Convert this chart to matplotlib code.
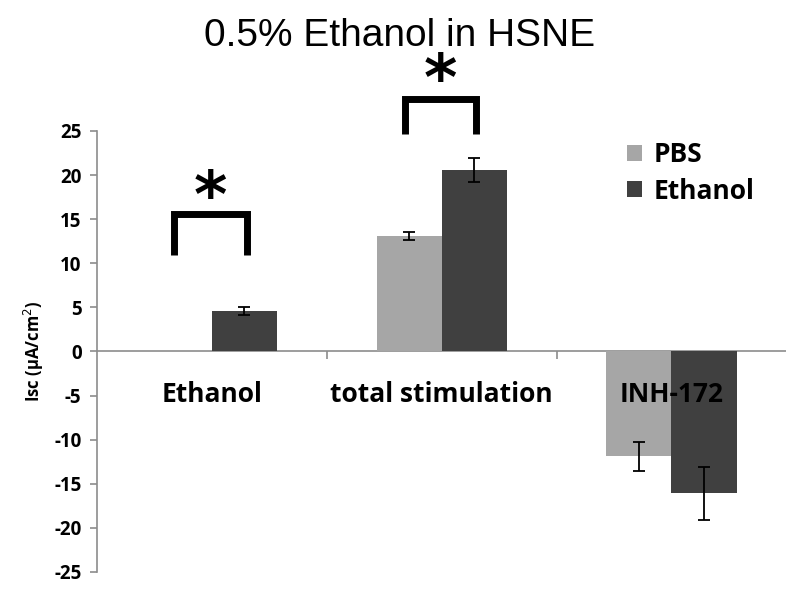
import matplotlib.pyplot as plt
import numpy as np

# data
categories = ['Ethanol', 'total stimulation', 'INH-172']
pbs = [0, 13.1, -11.9]
pbs_err = [0, 0.5, 1.65]
ethanol = [4.6, 20.6, -16.1]
ethanol_err = [0.45, 1.35, 3.0]
yticks = list(range(-25, 30, 5))

light = '#a6a6a6'
dark = '#404040'
axis_gray = '#8c8c8c'

fig = plt.figure(figsize=(8, 5.98), dpi=100)
ax = fig.add_axes([0.121, 0.0435, 0.862, 0.7375])

x = np.arange(len(categories))
w = 0.283
ax.bar(x - w/2, pbs, w, color=light, label='PBS', zorder=2)
ax.bar(x + w/2, ethanol, w, color=dark, label='Ethanol', zorder=2)
for i in range(len(x)):
    if pbs_err[i] > 0:
        ax.errorbar(x[i] - w/2, pbs[i], yerr=pbs_err[i], fmt='none', ecolor='black',
                    elinewidth=1.3, capsize=4, capthick=1.3, zorder=3)
    ax.errorbar(x[i] + w/2, ethanol[i], yerr=ethanol_err[i], fmt='none', ecolor='black',
                elinewidth=1.3, capsize=4, capthick=1.3, zorder=3)

ax.set_xlim(-0.5, 2.5)
ax.set_ylim(-25, 25)
ax.set_yticks(yticks)
ax.set_yticklabels([str(t) for t in yticks], fontsize=13.5, fontweight='bold', family='Open Sans')
ax.tick_params(axis='y', direction='out', length=5, color=axis_gray, width=1.2, pad=6)
ax.set_xticks([])
for s in ['top', 'right', 'bottom']:
    ax.spines[s].set_visible(False)
ax.spines['left'].set_color(axis_gray)
ax.spines['left'].set_linewidth(1.2)
ax.axhline(0, color=axis_gray, lw=1.2, zorder=1)
ax.vlines([0.5, 1.5], -0.9, 0, color=axis_gray, lw=1.2)

# category labels sit just under the zero line
for i, c in enumerate(categories):
    ax.text(x[i], -4.9, c, ha='center', va='center', fontsize=19,
            fontweight='bold', family='Open Sans', zorder=4)

ax.set_ylabel('Isc (μA/cm$^2$)', fontsize=12, fontweight='bold', family='Open Sans', labelpad=6)

# significance brackets
def bracket(x0, x1, y_top, y_bot, ystar):
    ax.plot([x0, x0, x1, x1], [y_bot, y_top, y_top, y_bot], color='black', lw=5,
            solid_joinstyle='miter', solid_capstyle='butt', clip_on=False)
    ax.text((x0 + x1) / 2, ystar, '*', ha='center', va='center', fontsize=46,
            fontweight='bold', family='DejaVu Sans', clip_on=False)

bracket(-0.165, 0.155, 15.6, 10.9, 17.3)
bracket(0.84, 1.15, 28.6, 24.6, 30.6)

ax.legend(loc='upper left', bbox_to_anchor=(0.735, 1.03), frameon=False,
          prop={'family': 'Open Sans', 'weight': 'bold', 'size': 19},
          handlelength=0.55, handleheight=0.55, handletextpad=0.45, labelspacing=0.35)

fig.text(0.5, 0.94, '0.5% Ethanol in HSNE', ha='center', va='center',
         fontsize=28, family='Liberation Sans')

fig.savefig('out.png', dpi=100)
